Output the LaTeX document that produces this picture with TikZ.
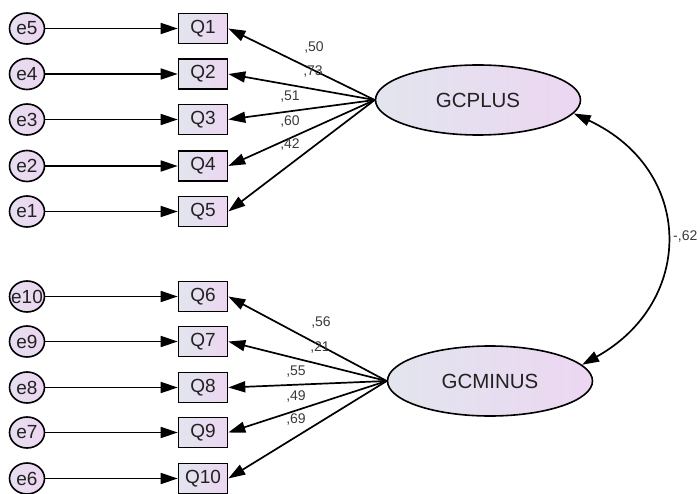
\documentclass[tikz,border=0pt]{standalone}
\usepackage{fontspec}
\setmainfont{Liberation Sans}
\usetikzlibrary{arrows.meta,shapes.geometric}
\definecolor{gleft}{HTML}{E2E5EE}
\definecolor{gright}{HTML}{ECD6F1}
\definecolor{txt}{HTML}{222222}
\definecolor{lbl}{HTML}{3A3A3A}
\tikzset{
  errnode/.style={ellipse, draw=black, line width=1.6pt, minimum width=35pt, minimum height=31pt, inner sep=0pt, left color=gleft!50!gright, right color=gright},
  errtext/.style={text=txt, font=\fontsize{19}{19}\selectfont, inner sep=0pt},
  obsnode/.style={rectangle, draw=black, line width=1.6pt, minimum width=49pt, minimum height=30pt, inner sep=0pt, left color=gleft, right color=gright, text=txt, font=\fontsize{19}{19}\selectfont},
  latnode/.style={ellipse, draw=black, line width=1.6pt, minimum width=205pt, minimum height=70pt, inner sep=0pt, left color=gleft, right color=gright, text=txt, font=\fontsize{20.5}{21}\selectfont},
  conn/.style={line width=1.7pt, -{Triangle[length=17pt,width=11pt]}},
  dconn/.style={line width=1.7pt, {Triangle[length=17pt,width=11pt]}-{Triangle[length=17pt,width=11pt]}},
  coef/.style={text=lbl, font=\fontsize{14}{14}\selectfont, inner sep=0pt}
}
\begin{document}
\begin{tikzpicture}[x=1pt,y=-1pt]
\useasboundingbox (0,0) rectangle (700,494);
% latent variables
\node[latnode] (GP) at (478,100) {GCPLUS};
\node[latnode] (GM) at (490,381) {GCMINUS};
% observed and errors
\foreach \q/\e/\y in {1/5/28.5, 2/4/74, 3/3/119.5, 4/2/166, 5/1/211.5, 6/10/296.5, 7/9/341.5, 8/8/387.5, 9/7/432.5, 10/6/478.5}{
  \node[obsnode] (Q\q) at (203,\y) {Q\q};
  \node[errnode] (E\e) at (27,\y) {};
  \node[errtext] (T\e) at (E\e.center) {e\e};
  \draw[conn] (E\e) -- (Q\q);
}
\foreach \q in {1,...,5}{ \draw[conn] (GP.west) -- (Q\q.east); }
\foreach \q in {6,...,10}{ \draw[conn] (GM.west) -- (Q\q.east); }
% coefficients
\node[coef] (c1) at (314,48) {,50};
\node[coef] (c2) at (313,72) {,73};
\node[coef] (c3) at (290,97) {,51};
\node[coef] (c4) at (290,122) {,60};
\node[coef] (c5) at (290,145) {,42};
\node[coef] (c6) at (321,323) {,56};
\node[coef] (c7) at (320,348) {,21};
\node[coef] (c8) at (296,372) {,55};
\node[coef] (c9) at (296,397) {,49};
\node[coef] (c10) at (296,420) {,69};
% correlation
\draw[dconn] (GP.-8) .. controls (695,170) and (695,302) .. (GM.10);
\node[coef, anchor=west] (r) at (673,237) {-,62};
\end{tikzpicture}
\end{document}
